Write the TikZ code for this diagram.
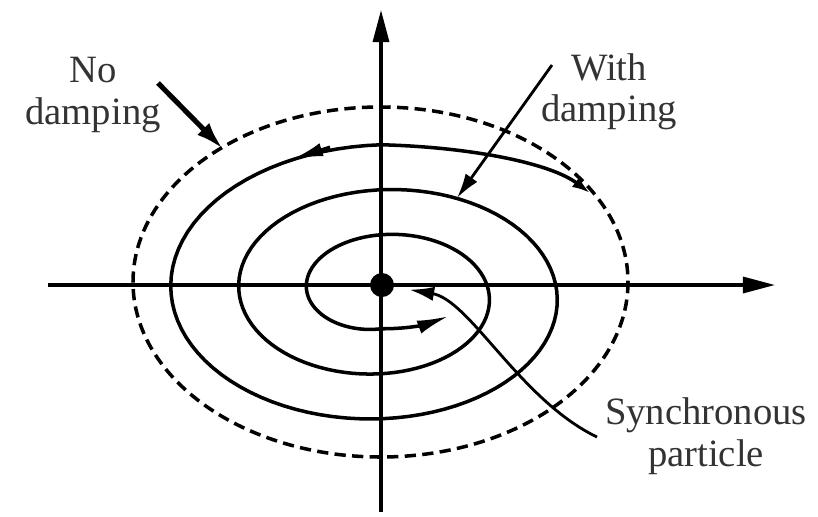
\documentclass[tikz,border=0pt]{standalone}
\usepackage{fontspec}
\setmainfont{Liberation Serif}
\usetikzlibrary{arrows.meta}

\begin{document}
\begin{tikzpicture}[x=0.025cm, y=-0.025cm,
    every node/.style={font=\fontsize{27.5}{29.5}\selectfont, align=center, text=black!80},
    axis/.style={line width=2.3pt, -{Triangle[length=0.8cm, width=0.4cm]}},
    orbit/.style={line width=2.5pt, line join=round},
    bound/.style={line width=2.5pt, dash pattern=on 8pt off 4.5pt},
    pointer/.style={line width=2pt, -{Latex[length=0.62cm, width=0.36cm]}},
    turn/.style={line width=2.2pt, -{Latex[length=0.75cm, width=0.34cm]}}]
  \useasboundingbox (0,0) rectangle (818,516);
  % axes
  \draw[axis] (48,285) -- (775,285);
  \draw[axis] (381,512) -- (381,10);
  % boundary without damping
  \draw[bound] (380.5,282) ellipse [x radius=247.5, y radius=175];
  % damped orbit, spiralling inwards
  \draw[orbit, {Latex[length=0.45cm, width=0.3cm]}-{Latex[length=0.8cm, width=0.34cm]}]
    (590,193) .. controls (550,163) and (470,147) .. (381,144.75)
    -- plot[variable=\t, domain=90:990, samples=240]
       ({381+(244-0.189*\t)*cos(\t)}, {293-(159.5-0.125*\t)*sin(\t)})
    .. controls (412,329) and (430,323) .. (449,316);
  \draw[turn] (330,147) -- (293,159);
  % synchronous particle
  \node (dot) at (382,285) [circle, fill=black, minimum size=0.6cm, inner sep=0pt] {};
  % labels
  \node (nodamp) at (93,95) {No\\damping};
  \node (withdamp) at (609,92) {With\\damping};
  \node (sync) at (706,436) {Synchronous\\particle};
  \coordinate (nd1) at (158,83);
  \coordinate (nd2) at (223,149);
  \coordinate (wd1) at (552,65);
  \coordinate (wd2) at (457,198);
  \coordinate (sp1) at (597,437);
  \draw[pointer, line width=3.6pt, -{Latex[length=0.7cm, width=0.42cm]}] (nd1) -- (nd2);
  \draw[pointer] (wd1) -- (wd2);
  \draw[pointer, shorten >=11pt] (sp1) .. controls (520,400) and (470,300) .. (dot);
\end{tikzpicture}
\end{document}
